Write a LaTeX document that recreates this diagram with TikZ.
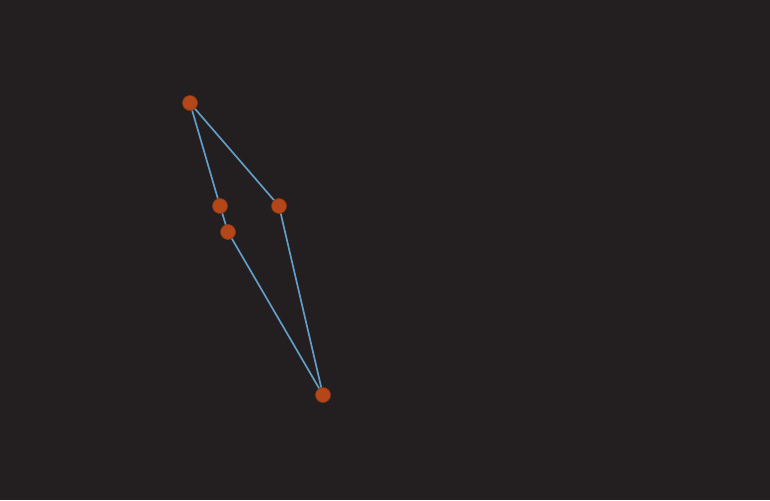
\documentclass[tikz,border=0pt]{standalone}
\definecolor{bg}{HTML}{231F20}
\definecolor{edgec}{HTML}{639CC4}
\definecolor{dotc}{HTML}{B4471A}
\definecolor{dotb}{HTML}{8A3614}
\begin{document}
\begin{tikzpicture}[x=1pt,y=-1pt,
  dot/.style={circle,fill=dotc,draw=dotb,line width=0.6pt,minimum size=15pt,inner sep=0pt},
  link/.style={draw=edgec,line width=1.7pt}]
\fill[bg] (0,0) rectangle (770,500);
\useasboundingbox (0,0) rectangle (770,500);
\node[dot] (a) at (190,103) {};
\node[dot] (b) at (220,206) {};
\node[dot] (c) at (279,206) {};
\node[dot] (d) at (228,232) {};
\node[dot] (e) at (323,395) {};
\draw[link] (a) -- (b);
\draw[link] (b) -- (d);
\draw[link] (d) -- (e);
\draw[link] (a) -- (c);
\draw[link] (c) -- (e);
\end{tikzpicture}
\end{document}
